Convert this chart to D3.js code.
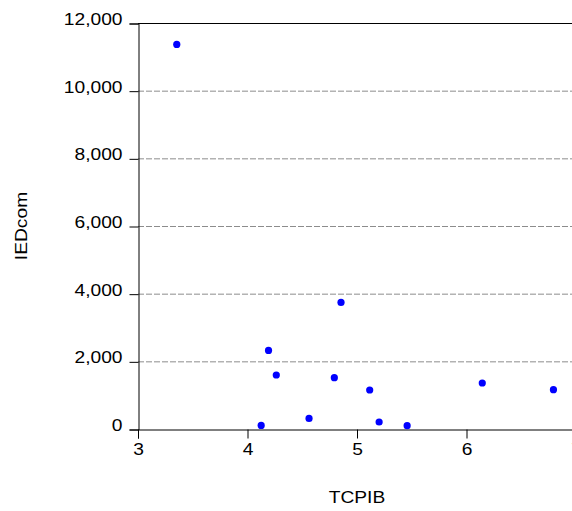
<!DOCTYPE html>
<html>
<head>
<meta charset="utf-8">
<script src="https://cdn.jsdelivr.net/npm/d3@7"></script>
<style>
  body { margin: 0; background: #fff; overflow: hidden; }
  svg { display: block; font-family: "Liberation Sans", Arial, sans-serif; }
</style>
</head>
<body>
<script>
// scatter of IEDcom against TCPIB
var tcpib = [3.354, 4.125, 4.192, 4.263, 4.562, 4.793, 4.854, 5.116, 5.202, 5.458, 6.144, 6.794];
var iedcom = [11368, 106, 2323, 1596, 313, 1516, 3742, 1153, 207, 98, 1360, 1162];
var xTicks = [3, 4, 5, 6, 7];
var yTicks = [0, 2000, 4000, 6000, 8000, 10000, 12000];

var options = { width: 572, height: 511 };
var plot = { left: 138, right: 576, top: 23, bottom: 429 };

var svg = d3.select("body").append("svg")
            .attr("width", options.width)
            .attr("height", options.height);

var x = d3.scaleLinear().domain([3, 7]).range([plot.left, plot.right]);
var y = d3.scaleLinear().domain([0, 12000]).range([plot.bottom, plot.top]);

// the reference text is a bit wider than the font, stretch it
var stretch = function(sel) {
  sel.each(function() {
    var w = this.getComputedTextLength();
    d3.select(this).attr("textLength", w * 1.2).attr("lengthAdjust", "spacingAndGlyphs");
  });
};

// dashed grid lines
svg.append("g").selectAll("line")
   .data(yTicks.filter(function(d) { return d > 0 && d < 12000; }))
   .enter().append("line")
   .attr("x1", plot.left).attr("x2", plot.right)
   .attr("y1", function(d) { return y(d) + 0.5; })
   .attr("y2", function(d) { return y(d) + 0.5; })
   .attr("stroke", "#8c8c8c")
   .attr("stroke-dasharray", "6,2");

// frame: top border
svg.append("line")
   .attr("x1", plot.left).attr("x2", plot.right)
   .attr("y1", plot.top + 0.5).attr("y2", plot.top + 0.5)
   .attr("stroke", "#000");

var yAxis = d3.axisLeft(y).tickValues(yTicks).tickSize(9).tickPadding(7)
              .tickFormat(d3.format(",d"));
var gy = svg.append("g")
            .attr("transform", "translate(" + (plot.left + 0.5) + ",0.5)")
            .call(yAxis);

var xAxis = d3.axisBottom(x).tickValues(xTicks).tickSize(9).tickPadding(5)
              .tickFormat(d3.format("d"));
var gx = svg.append("g")
            .attr("transform", "translate(0," + (plot.bottom + 0.5) + ")")
            .call(xAxis);

[gx, gy].forEach(function(g) {
  g.select(".domain").attr("stroke", "#000");
  g.selectAll(".tick line").attr("stroke", "#000");
  g.selectAll(".tick text")
   .attr("fill", "#000")
   .style("font-size", "16px")
   .style("font-family", "Liberation Sans, Arial, sans-serif")
   .call(stretch);
});
gy.selectAll(".tick text").attr("y", -4);

// axis titles
svg.append("text")
   .attr("x", (plot.left + plot.right) / 2)
   .attr("y", 503)
   .attr("text-anchor", "middle")
   .style("font-size", "16px")
   .text("TCPIB")
   .call(stretch);

svg.append("text")
   .attr("transform", "translate(27," + ((plot.top + plot.bottom) / 2) + ") rotate(-90)")
   .attr("text-anchor", "middle")
   .style("font-size", "16px")
   .text("IEDcom")
   .call(stretch);

// points
svg.append("g").selectAll("circle")
   .data(tcpib.map(function(v, i) { return { x: v, y: iedcom[i] }; }))
   .enter().append("circle")
   .attr("cx", function(d) { return x(d.x); })
   .attr("cy", function(d) { return y(d.y); })
   .attr("r", 3.6)
   .style("fill", "#0000ff");
</script>
</body>
</html>
